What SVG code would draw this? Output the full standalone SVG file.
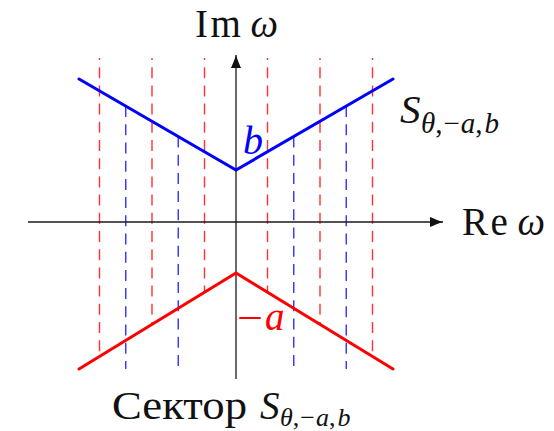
<svg xmlns="http://www.w3.org/2000/svg" width="554" height="431" viewBox="0 0 554 431">
<style>
  .axis { stroke: #1a1a1a; stroke-width: 1.3; fill: none; }
  .thick-b { stroke: #0000ff; stroke-width: 3; fill: none; stroke-linecap: round; }
  .thick-r { stroke: #ff0000; stroke-width: 3; fill: none; stroke-linecap: round; }
  .dash-r { stroke: #ff3030; stroke-width: 1.4; fill: none; stroke-dasharray: 11 7.2; stroke-dashoffset: 9; }
  .dash-b { stroke: #3030ff; stroke-width: 1.4; fill: none; stroke-dasharray: 11 7.2; }
  .lbl { font-family: "Liberation Serif", "DejaVu Serif", serif; font-size: 39px; fill: #111; }
  .it { font-style: italic; }
</style>
<defs>
  <marker id="arr" viewBox="-14 -6 15 12" refX="0" refY="0" markerWidth="15" markerHeight="12" orient="auto" markerUnits="userSpaceOnUse">
    <path d="M0,0 C-4,-1.2 -9,-3.2 -13,-5 L-13,5 C-9,3.2 -4,1.2 0,0 Z" fill="#111"/>
  </marker>
</defs>

<g id="dashed-red">
  <line class="dash-r" x1="99.5" y1="58" x2="99.5" y2="356.4"/>
  <line class="dash-r" x1="152" y1="58" x2="152" y2="324.3"/>
  <line class="dash-r" x1="204.5" y1="58" x2="204.5" y2="292.2"/>
  <line class="dash-r" x1="267.5" y1="58" x2="267.5" y2="292.2"/>
  <line class="dash-r" x1="320" y1="58" x2="320" y2="324.3"/>
  <line class="dash-r" x1="372.5" y1="58" x2="372.5" y2="356.4"/>
</g>
<g id="dashed-blue">
  <line class="dash-b" x1="125.75" y1="106.1" x2="125.75" y2="369"/>
  <line class="dash-b" x1="178.25" y1="136.5" x2="178.25" y2="369"/>
  <line class="dash-b" x1="293.75" y1="136.5" x2="293.75" y2="369"/>
  <line class="dash-b" x1="346.25" y1="106.1" x2="346.25" y2="369"/>
</g>

<g id="connectors">
  <line class="axis" x1="28" y1="222" x2="443" y2="222" marker-end="url(#arr)"/>
  <line class="axis" x1="236" y1="379" x2="236" y2="55" marker-end="url(#arr)"/>
</g>

<g id="upper-boundary">
  <polyline class="thick-b" points="79,79 236,170 393,79"/>
</g>
<g id="lower-boundary">
  <polyline class="thick-r" points="79,369 236,273 393,369"/>
</g>

<g id="label-im">
  <text class="lbl" x="195" y="37" textLength="83" lengthAdjust="spacing">Im<tspan class="it" dx="7">ω</tspan></text>
</g>
<g id="label-re">
  <text class="lbl" x="462" y="235" textLength="83" lengthAdjust="spacing">Re<tspan class="it" dx="7">ω</tspan></text>
</g>
<g id="label-sector">
  <text class="lbl it" x="400" y="123" style="font-size:41px">S</text>
  <text class="lbl" x="421" y="133" style="font-size:29px"><tspan class="it">θ</tspan>,<tspan dx="1">−</tspan><tspan class="it" dx="1">a</tspan>,<tspan class="it" dx="2">b</tspan></text>
</g>
<g id="label-b">
  <text class="lbl it" x="243" y="154" style="fill:#0000ff;font-size:40px">b</text>
</g>
<g id="label-a">
  <text class="lbl" x="237" y="331" style="fill:#ff0000" textLength="26" lengthAdjust="spacingAndGlyphs">−</text>
  <text class="lbl it" x="265" y="330" style="fill:#ff0000">a</text>
</g>
<g id="caption">
  <text class="lbl" x="112" y="419" textLength="135" lengthAdjust="spacingAndGlyphs">Сектор</text>
  <text class="lbl it" x="260" y="419">S</text>
  <text class="lbl" x="280" y="426" style="font-size:26px"><tspan class="it">θ</tspan>,<tspan dx="1">−</tspan><tspan class="it" dx="1">a</tspan>,<tspan class="it" dx="2">b</tspan></text>
</g>
</svg>
